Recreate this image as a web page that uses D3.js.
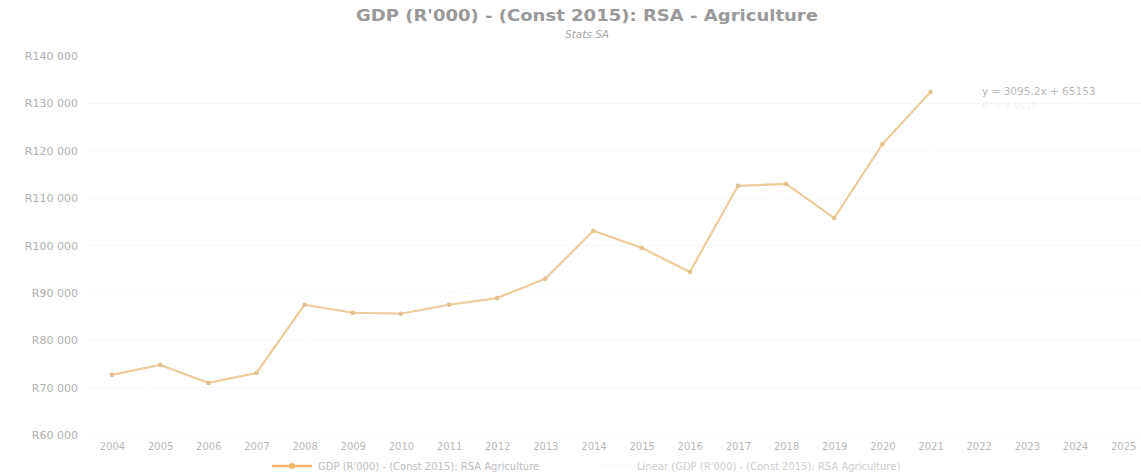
<!DOCTYPE html>
<html><head><meta charset="utf-8">
<script src="https://cdn.jsdelivr.net/npm/d3@7"></script>
<style>
body{margin:0;background:#fff;}
text{font-family:"DejaVu Sans","Open Sans",sans-serif;}
</style></head>
<body><svg id="c" width="1141" height="473"></svg>
<script>
const years = ["2004","2005","2006","2007","2008","2009","2010","2011","2012","2013","2014","2015","2016","2017","2018","2019","2020","2021","2022","2023","2024","2025"];
const gdp = [72700,74800,71000,73100,87500,85800,85600,87500,88900,93000,103100,99500,94400,112600,113000,105800,121400,132400];
const yTicks = [60000,70000,80000,90000,100000,110000,120000,130000,140000];
const title = "GDP (R'000) - (Const 2015): RSA - Agriculture";
const subtitle = "Stats SA";
const seriesName = "GDP (R'000) - (Const 2015): RSA Agriculture";
const trendName = "Linear (GDP (R'000) - (Const 2015): RSA Agriculture)";
const trendIntercept = 65153, trendSlope = 3095.2;

const svg = d3.select("#c");
const x = d3.scalePoint().domain(years).range([112, 112 + 48.15*21]);
const y = d3.scaleLinear().domain([60000,140000]).range([435,56]);

// gridlines
svg.append("g").selectAll("line").data(yTicks).join("line")
  .attr("x1",88).attr("x2",1141).attr("y1",d=>y(d)).attr("y2",d=>y(d))
  .attr("stroke","#f8f8f8").attr("stroke-width",1);

// y axis labels
const fmt = d => "R" + d3.format(",")(d).replace(/,/g," ");
const ya = d3.axisLeft(y).tickValues(yTicks).tickFormat(fmt).tickSize(0).tickPadding(0);
const yg = svg.append("g").attr("transform","translate(78,0)").call(ya);
yg.select(".domain").remove();
yg.selectAll("text").attr("fill","#b0b0b0").style("font-size","11px");

// x axis labels
const xa = d3.axisBottom(x).tickSize(0).tickPadding(0);
const xg = svg.append("g").attr("transform","translate(0,443)").call(xa);
xg.select(".domain").remove();
xg.selectAll("text").attr("fill","#b8b8b8").style("font-size","10px");

// trendline (nearly invisible in reference)
const tl = d3.line().x((d,i)=>x(years[i])).y(d=>y(d));
const trend = years.map((yr,i)=>trendIntercept + trendSlope*(i+1));
svg.append("path").datum(trend).attr("d",tl).attr("fill","none")
  .attr("stroke","#fdfbf8").attr("stroke-width",1.5).attr("stroke-dasharray","2,2");

// data line
const line = d3.line().x((d,i)=>x(years[i])).y(d=>y(d));
svg.append("path").datum(gdp).attr("d",line).attr("fill","none")
  .attr("stroke","#eecb9c").attr("stroke-width",2.2);
svg.append("g").selectAll("circle").data(gdp).join("circle")
  .attr("cx",(d,i)=>x(years[i])).attr("cy",d=>y(d)).attr("r",2.3)
  .attr("fill","#e2c090");

// title
svg.append("text").attr("x",587).attr("y",21).attr("text-anchor","middle")
  .attr("fill","#999999").style("font-size","15px").style("font-weight","bold")
  .attr("textLength",462).attr("lengthAdjust","spacingAndGlyphs").text(title);
svg.append("text").attr("x",587).attr("y",38).attr("text-anchor","middle")
  .attr("fill","#a8a8a8").style("font-size","10.5px").style("font-style","italic").text(subtitle);

// equation
svg.append("text").attr("x",982).attr("y",95).attr("fill","#b8b8b8").style("font-size","10.5px")
  .text("y = " + trendSlope + "x + " + trendIntercept);
svg.append("text").attr("x",982).attr("y",109).attr("fill","#f0f0f0").style("font-size","9px")
  .text("R² = 0.9017");

// legend
const lg = svg.append("g");
lg.append("line").attr("x1",272).attr("x2",312).attr("y1",466).attr("y2",466)
  .attr("stroke","#f5b36c").attr("stroke-width",2.5);
lg.append("circle").attr("cx",292).attr("cy",466).attr("r",3).attr("fill","#f5b36c");
lg.append("text").attr("x",318).attr("y",469.5).attr("fill","#bcbcbc").style("font-size","10px").text(seriesName);
lg.append("line").attr("x1",596).attr("x2",632).attr("y1",466).attr("y2",466)
  .attr("stroke","#f9f3ec").attr("stroke-width",1.5).attr("stroke-dasharray","2,2");
lg.append("text").attr("x",637).attr("y",469.5).attr("fill","#cccccc").style("font-size","10px").text(trendName);
</script></body></html>
